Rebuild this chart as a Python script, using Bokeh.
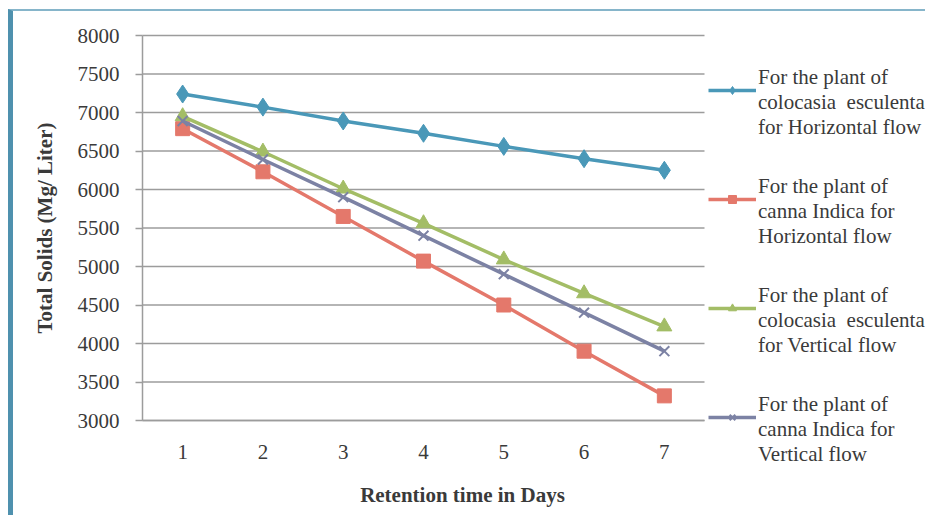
from bokeh.plotting import figure
from bokeh.models import Range1d, FixedTicker, Legend, LegendItem, Label
from bokeh.embed import file_html
from bokeh.resources import INLINE

# ---- data ----
days = [1, 2, 3, 4, 5, 6, 7]
colocasia_horizontal = [7240, 7070, 6890, 6730, 6560, 6400, 6250]
canna_horizontal = [6790, 6230, 5650, 5070, 4500, 3900, 3320]
colocasia_vertical = [6950, 6490, 6010, 5560, 5090, 4650, 4220]
canna_vertical = [6890, 6390, 5900, 5400, 4900, 4400, 3900]
y_ticks = [3000, 3500, 4000, 4500, 5000, 5500, 6000, 6500, 7000, 7500, 8000]
series_labels = [
    "For the plant of\ncolocasia  esculenta\nfor Horizontal flow",
    "For the plant of\ncanna Indica for\nHorizontal flow",
    "For the plant of\ncolocasia  esculenta\nfor Vertical flow",
    "For the plant of\ncanna Indica for\nVertical flow",
]
x_title = "Retention time in Days"
y_title = "Total Solids (Mg/ Liter)"

FONT = "Liberation Serif"
TXT = "#3a3a3a"
GRID = "#9c9c9c"

# ---- layout (pixels); the frame covers the whole canvas, axes are pinned ----
W, H = 917, 506
PLOT_L, PLOT_T, PLOT_W, PLOT_H = 129, 24, 562, 385   # gridded plot area
x0, x1 = 0.5, 7.5
y0, y1 = y_ticks[0], y_ticks[-1]
kx = PLOT_W / (x1 - x0)
ky = PLOT_H / (y1 - y0)
x_start = x0 - PLOT_L / kx
x_end = x1 + (W - PLOT_L - PLOT_W) / kx
y_end = y1 + PLOT_T / ky
y_start = y0 - (H - PLOT_T - PLOT_H) / ky

p = figure(width=W, height=H, output_backend="svg", toolbar_location=None,
           x_range=Range1d(x_start, x_end), y_range=Range1d(y_start, y_end),
           min_border=0, min_border_left=0, min_border_right=0,
           min_border_top=0, min_border_bottom=0)
p.outline_line_color = None
p.background_fill_color = "white"
p.border_fill_color = "white"
# picture frame: blue bar on the left and a thin rule on top
p.styles = {"border-left": "5px solid #4f91ae", "border-top": "2px solid #86b5ca",
            "margin-left": "8px", "margin-top": "9px"}

# axes pinned to the plot area
p.xaxis.fixed_location = y0
p.yaxis.fixed_location = x0
p.xaxis.bounds = (x0, x1)
p.yaxis.bounds = (y0, y1)
p.xaxis.ticker = FixedTicker(ticks=days)
p.yaxis.ticker = FixedTicker(ticks=y_ticks)
for ax in (p.xaxis[0], p.yaxis[0]):
    ax.axis_line_color = GRID
    ax.axis_line_width = 1.5
    ax.major_tick_line_color = GRID
    ax.major_tick_line_width = 1.5
    ax.minor_tick_line_color = None
    ax.major_tick_in = 0
    ax.major_label_text_font = FONT
    ax.major_label_text_font_size = "21px"
    ax.major_label_text_color = TXT
p.xaxis.major_tick_out = 0
p.xaxis.major_label_standoff = 24
p.yaxis.major_tick_out = 7
p.yaxis.major_label_standoff = 16

p.yaxis.axis_label = y_title
p.yaxis.axis_label_text_font = FONT
p.yaxis.axis_label_text_font_style = "bold"
p.yaxis.axis_label_text_font_size = "21px"
p.yaxis.axis_label_text_color = TXT
p.yaxis.axis_label_standoff = 18

# horizontal grid lines limited to the plot area
p.xgrid.grid_line_color = None
p.ygrid.grid_line_color = None
p.segment(x0=[x0] * len(y_ticks), x1=[x1] * len(y_ticks), y0=y_ticks, y1=y_ticks,
          line_color=GRID, line_width=1.5)

# x axis title, a little right of the plot centre as in the reference
p.add_layout(Label(x=(x0 + x1) / 2 + 39 / kx, y=y0 - 74 / ky, text=x_title,
                   text_font=FONT, text_font_style="bold", text_font_size="21px",
                   text_color=TXT, text_align="center", text_baseline="middle"))

# series
c_blue, c_red, c_green, c_purple = "#4a98b8", "#e4786b", "#a3bd66", "#7c82a4"
lw = 3.5
series = [
    (colocasia_horizontal, c_blue, "diamond", 18),
    (canna_horizontal, c_red, "square", 14),
    (colocasia_vertical, c_green, "triangle", 15),
    (canna_vertical, c_purple, "x", 14),
]
items = []
for (vals, col, mk, sz), lab in zip(series, series_labels):
    rl = p.line(days, vals, line_color=col, line_width=lw)
    rm = p.scatter(days, vals, marker=mk, size=sz, fill_color=col, line_color=col,
                   line_width=2 if mk == "x" else 1)
    # a leading empty line raises the legend glyph towards the first text line
    items.append(LegendItem(label="\n" + lab, renderers=[rl, rm]))

legend = Legend(items=items, location=(PLOT_L + PLOT_W + 4, 50), margin=0, padding=0,
                spacing=9, glyph_width=48, glyph_height=20, label_standoff=2,
                label_text_font=FONT, label_text_font_size="21px",
                label_text_color=TXT, label_text_line_height=1.2,
                border_line_color=None, background_fill_alpha=0)
p.add_layout(legend, "center")

open("out.html", "w").write(file_html(p, INLINE))
